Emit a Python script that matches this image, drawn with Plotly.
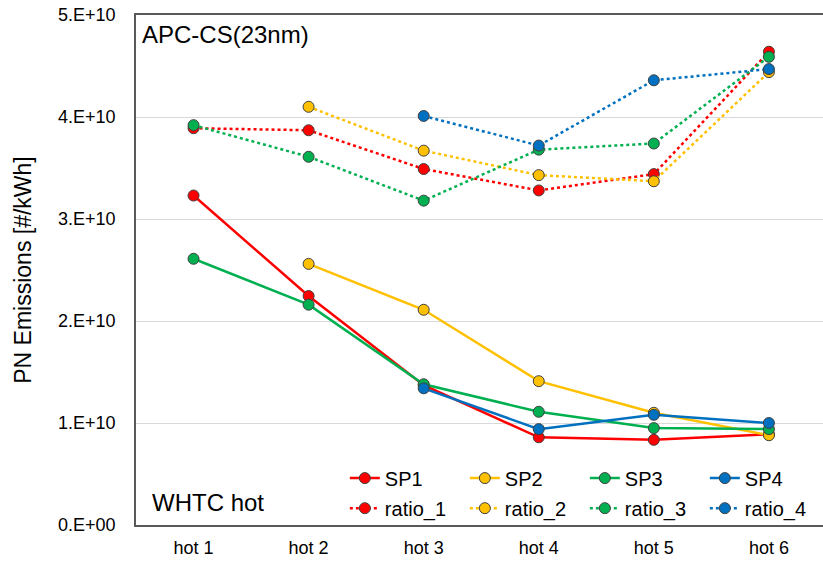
import plotly.graph_objects as go

categories = ["hot 1", "hot 2", "hot 3", "hot 4", "hot 5", "hot 6"]

sp1 = [3.23e10, 2.245e10, 1.37e10, 0.86e10, 0.835e10, 0.89e10]
sp2 = [None, 2.56e10, 2.11e10, 1.41e10, 1.10e10, 0.88e10]
sp3 = [2.61e10, 2.16e10, 1.38e10, 1.11e10, 0.95e10, 0.94e10]
sp4 = [None, None, 1.34e10, 0.94e10, 1.08e10, 1.00e10]

ratio_1 = [3.89e10, 3.87e10, 3.49e10, 3.28e10, 3.44e10, 4.64e10]
ratio_2 = [None, 4.10e10, 3.67e10, 3.43e10, 3.37e10, 4.44e10]
ratio_3 = [3.92e10, 3.61e10, 3.18e10, 3.68e10, 3.74e10, 4.59e10]
ratio_4 = [None, None, 4.01e10, 3.72e10, 4.36e10, 4.47e10]

y_ticks = [0, 1e10, 2e10, 3e10, 4e10, 5e10]
y_ticklabels = ["0.E+00", "1.E+10", "2.E+10", "3.E+10", "4.E+10", "5.E+10"]

colors = ["#FF0000", "#FFC000", "#00B050", "#0070C0"]

fig = go.Figure()

solid = [("SP1", sp1), ("SP2", sp2), ("SP3", sp3), ("SP4", sp4)]
dotted = [("ratio_1", ratio_1), ("ratio_2", ratio_2), ("ratio_3", ratio_3), ("ratio_4", ratio_4)]

marker_line = dict(color="#404040", width=1)

for i, (name, vals) in enumerate(solid):
    fig.add_trace(go.Scatter(
        x=categories, y=vals, name=name, mode="lines+markers",
        line=dict(color=colors[i], width=2.5),
        marker=dict(color=colors[i], size=11, line=marker_line),
        legend="legend",
    ))
for i, (name, vals) in enumerate(dotted):
    fig.add_trace(go.Scatter(
        x=categories, y=vals, name=name, mode="lines+markers",
        line=dict(color=colors[i], width=2.5, dash="dot"),
        marker=dict(color=colors[i], size=11, line=marker_line),
        legend="legend2",
    ))

font_family = "Liberation Sans, Arial, sans-serif"

fig.update_layout(
    width=823, height=561,
    margin=dict(l=136, r=0, t=15, b=36, autoexpand=False),
    paper_bgcolor="white", plot_bgcolor="white",
    font=dict(family=font_family, color="#000000"),
    xaxis=dict(
        type="category", range=[-0.5, 5.47],
        showgrid=False, showline=True, linecolor="#595959", linewidth=1.5,
        mirror=True, ticks="outside", ticklen=6, tickcolor="rgba(0,0,0,0)",
        tickfont=dict(size=18, color="#000000"),
    ),
    yaxis=dict(
        range=[0, 5e10], tickvals=y_ticks, ticktext=y_ticklabels,
        showgrid=True, gridcolor="#D9D9D9", gridwidth=1,
        showline=True, linecolor="#595959", linewidth=1.5, mirror=True,
        zeroline=False, ticks="outside", ticklen=15, tickcolor="rgba(0,0,0,0)",
        tickfont=dict(size=18, color="#000000"),
        title=dict(text="PN Emissions [#/kWh]", font=dict(size=23, color="#000000"), standoff=20),
    ),
    legend=dict(
        orientation="h", x=0.304, y=0.092, xanchor="left", yanchor="middle",
        font=dict(size=20, color="#000000"), entrywidth=75, entrywidthmode="pixels",
        bgcolor="rgba(0,0,0,0)", tracegroupgap=0,
    ),
    legend2=dict(
        orientation="h", x=0.304, y=0.033, xanchor="left", yanchor="middle",
        font=dict(size=20, color="#000000"), entrywidth=75, entrywidthmode="pixels",
        bgcolor="rgba(0,0,0,0)", tracegroupgap=0,
    ),
    annotations=[
        dict(text="APC-CS(23nm)", x=0.006, y=0.992, xref="paper", yref="paper",
             xanchor="left", yanchor="top", showarrow=False,
             font=dict(size=24, color="#000000")),
        dict(text="WHTC hot", x=0.02, y=0.045, xref="paper", yref="paper",
             xanchor="left", yanchor="middle", showarrow=False,
             font=dict(size=24, color="#000000")),
    ],
)

fig.write_html("out.html")
